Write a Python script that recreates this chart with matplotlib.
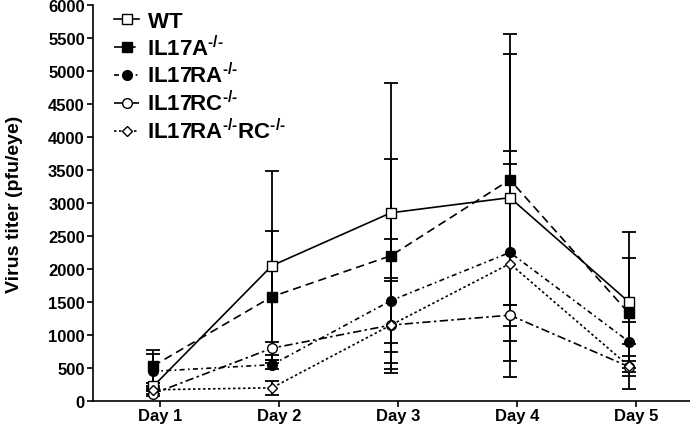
import numpy as np
import matplotlib
matplotlib.use("Agg")
import matplotlib.pyplot as plt

plt.rcParams['font.family'] = ['Liberation Sans', 'DejaVu Sans']
plt.rcParams['mathtext.fontset'] = 'custom'
plt.rcParams['mathtext.rm'] = 'Liberation Sans:bold'
plt.rcParams['mathtext.bf'] = 'Liberation Sans:bold'

# data
days = ['Day 1', 'Day 2', 'Day 3', 'Day 4', 'Day 5']
wt = [220, 2050, 2850, 3080, 1500]
wt_sd = [60, 1430, 1970, 2480, 1060]
il17a = [530, 1580, 2200, 3350, 1330]
il17a_sd = [250, 1000, 1460, 1900, 830]
il17ra = [450, 550, 1520, 2250, 900]
il17ra_sd = [260, 70, 940, 1340, 300]
il17rc = [110, 800, 1150, 1300, 520]
il17rc_sd = [40, 100, 720, 160, 340]
il17rarc = [170, 200, 1150, 2080, 530]
il17rarc_sd = [60, 110, 670, 1710, 150]

labels = [r'$\mathbf{WT}$', r'$\mathbf{IL17A^{\text{-/-}}}$',
          r'$\mathbf{IL17RA^{\text{-/-}}}$', r'$\mathbf{IL17RC^{\text{-/-}}}$',
          r'$\mathbf{IL17RA^{\text{-/-}}RC^{\text{-/-}}}$']

x = np.arange(1, 6) - 0.06

fig = plt.figure(figsize=(6.9, 4.27), dpi=100)
ax = fig.add_axes([0.135, 0.0585, 0.865, 0.928])

series = [
    (wt, wt_sd, 's', 'white', '-'),
    (il17a, il17a_sd, 's', 'black', (0, (5, 3))),
    (il17ra, il17ra_sd, 'o', 'black', (0, (3, 2, 1, 2))),
    (il17rc, il17rc_sd, 'o', 'white', (0, (5, 2, 1.5, 2))),
    (il17rarc, il17rarc_sd, 'D', 'white', (0, (1.5, 1.5))),
]
handles = []
for (y, sd, m, fc, ls), lab in zip(series, labels):
    ms = 7 if m != 'D' else 5.5
    ax.errorbar(x, y, yerr=sd, fmt='none', ecolor='black', elinewidth=1.3,
                capsize=5, capthick=1.3, zorder=2)
    h, = ax.plot(x, y, color='black', linestyle=ls, linewidth=1.2, marker=m,
                 markersize=ms, markerfacecolor=fc, markeredgecolor='black',
                 markeredgewidth=1.0, label=lab, zorder=3)
    handles.append(h)

ax.set_xlim(0.437, 5.454)
ax.set_ylim(0, 6000)
ax.set_yticks(np.arange(0, 6001, 500))
ax.set_xticks(np.arange(1, 6))
ax.set_xticklabels(days)
ax.tick_params(axis='both', direction='out', length=4, width=1.2,
               labelsize=12, pad=2)
ax.tick_params(axis='x', pad=1)
for t in ax.get_xticklabels() + ax.get_yticklabels():
    t.set_fontweight('bold')
ax.spines['top'].set_visible(False)
ax.spines['right'].set_visible(False)
ax.spines['left'].set_linewidth(1.2)
ax.spines['bottom'].set_linewidth(1.2)
ax.set_ylabel('Virus titer (pfu/eye)', fontsize=14, fontweight='bold',
              labelpad=8)
ax.yaxis.set_label_coords(-0.118, 0.5)

leg = ax.legend(handles=handles, loc='upper left', bbox_to_anchor=(0.002, 1.035),
                frameon=False, handlelength=1.1, handletextpad=0.35,
                labelspacing=0.12, prop={'size': 16, 'weight': 'bold'})

fig.savefig('out.png', dpi=100)
